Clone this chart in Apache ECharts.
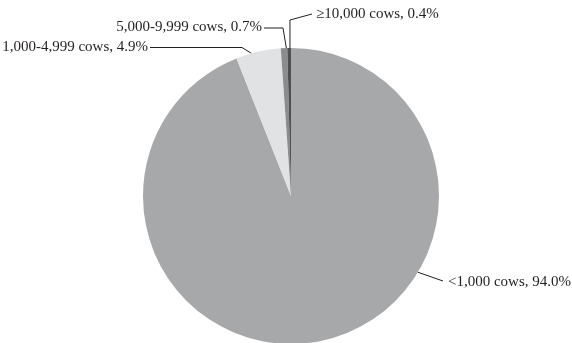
<!DOCTYPE html>
<html>
<head>
<meta charset="utf-8">
<script src="https://cdn.jsdelivr.net/npm/echarts@6/dist/echarts.min.js"></script>
<style>
  html, body { margin: 0; padding: 0; background: #fff; }
  #chart { width: 572px; height: 343px; }
</style>
</head>
<body>
<div id="chart"></div>
<script>
// Herd-size shares of dairy operations
const categories = ['<1,000 cows', '1,000-4,999 cows', '5,000-9,999 cows', '\u226510,000 cows'];
const shares = [94.0, 4.9, 0.7, 0.4];
const sliceColors = ['#a7a8aa', '#e1e2e3', '#8b8c8e', '#4f4f51'];

// Pie geometry
const CX = 291, CY = 196, R = 148;

function onRim(deg) {
  const a = deg * Math.PI / 180;
  return [CX + R * Math.sin(a), CY - R * Math.cos(a)];
}

// Callout placement for each slice label (elbow leader lines)
function placeLabel(params) {
  switch (params.dataIndex) {
    case 0: {
      const p = onRim(121);
      return { x: 448, y: 282, align: 'left', verticalAlign: 'middle',
               labelLinePoints: [p, [443, 281]] };
    }
    case 1: {
      const p = onRim(344.5);
      return { x: 148, y: 47.5, align: 'right', verticalAlign: 'middle',
               labelLinePoints: [p, [242, 47.5], [150, 47.5]] };
    }
    case 2: {
      const p = onRim(358.2);
      return { x: 262, y: 27.5, align: 'right', verticalAlign: 'middle',
               labelLinePoints: [p, [283, 28], [264, 28]] };
    }
    default: {
      const p = onRim(359.6);
      return { x: 316, y: 14, align: 'left', verticalAlign: 'middle',
               labelLinePoints: [p, [p[0], 20], [312, 14]] };
    }
  }
}

const chart = echarts.init(document.getElementById('chart'), null, { renderer: 'canvas' });
chart.setOption({
  animation: false,
  backgroundColor: '#ffffff',
  series: [{
    type: 'pie',
    center: [CX, CY],
    radius: R,
    startAngle: 90,
    clockwise: true,
    avoidLabelOverlap: false,
    silent: true,
    data: categories.map((name, i) => ({
      name: name,
      value: shares[i],
      itemStyle: { color: sliceColors[i] }
    })),
    itemStyle: { borderWidth: 0 },
    label: {
      show: true,
      position: 'outside',
      formatter: (p) => p.name + ', ' + p.value.toFixed(1) + '%',
      fontFamily: '"Liberation Serif", "DejaVu Serif", serif',
      fontSize: 15,
      color: '#231f20'
    },
    labelLine: {
      show: true,
      lineStyle: { color: '#231f20', width: 1 }
    },
    labelLayout: placeLabel
  }]
});
</script>
</body>
</html>
